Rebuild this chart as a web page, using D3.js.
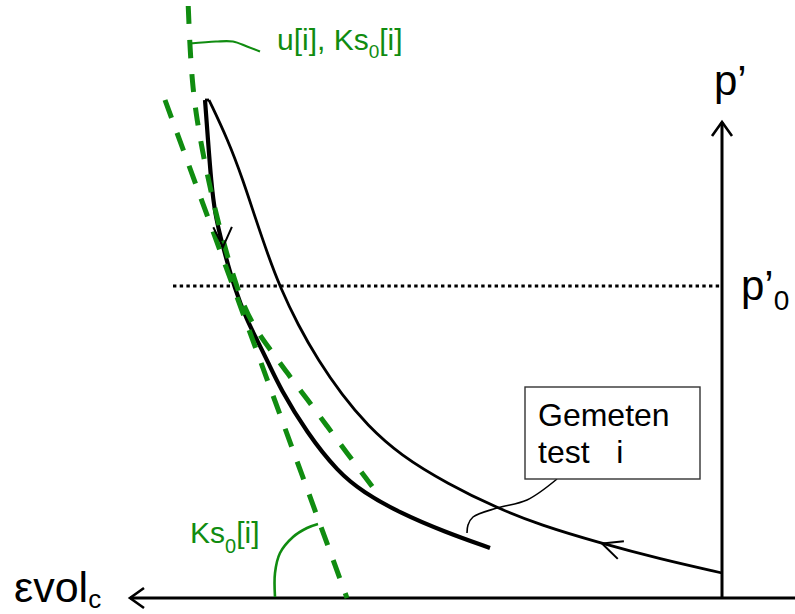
<!DOCTYPE html>
<html>
<head>
<meta charset="utf-8">
<script src="https://cdn.jsdelivr.net/npm/d3@7"></script>
<style>
  body { margin: 0; background: #fff; }
  text { font-family: "Liberation Sans", Arial, sans-serif; }
</style>
</head>
<body>
<div id="vis"></div>
<script>
var width = 795;
var height = 614;
var green = "#108c10";

// schematic units: evol grows to the left, p' grows upward
// loading branch, from the origin side up to the peak
var loading = [[0.00, 5.0], [0.62, 7.8], [1.22, 11.0], [1.82, 14.6], [2.25, 18.0],
  [2.74, 22.8], [3.22, 28.6], [3.55, 34.6], [3.80, 40.6], [4.04, 47.6], [4.24, 54.6],
  [4.42, 62.2], [4.54, 68.6], [4.66, 75.6], [4.79, 83.6], [4.94, 91.6], [5.13, 99.6]];

// unloading branch (thick), from the peak down
var unloading = [[5.17, 99.6], [5.14, 91.6], [5.11, 83.6], [5.07, 76.6], [4.99, 70.2],
  [4.87, 61.6], [4.75, 55.6], [4.65, 51.6], [4.54, 47.2], [4.42, 42.0], [4.15, 33.0],
  [3.84, 25.2], [3.59, 21.2], [3.22, 17.0], [2.77, 13.2], [2.32, 10.0]];

// fitted curve u[i], Ks0[i]
var fit_curve = [[5.34, 119.6], [5.32, 109.6], [5.29, 101.6], [5.25, 95.6], [5.19, 88.8],
  [5.12, 82.2], [5.04, 75.2], [4.93, 67.2], [4.81, 59.6], [4.68, 54.2], [4.53, 50.0],
  [4.34, 44.8], [4.15, 39.8], [3.95, 34.4], [3.75, 29.0], [3.54, 23.4], [3.47, 21.6]];

// tangent Ks0[i] at p'0
var tangent = [[5.57, 99.6], [3.75, 0]];

var p0 = 62.4;
var p0_line = [5.49, 0];
var ev_axis = [-0.75, 5.92];
var p_axis = [0, 95.2];

// direction arrows on the curves: tip and a point the arms lean back to
var curve_arrows = [
  {at: [4.99, 70.2], back: [5.00, 80.0]},
  {at: [1.20, 10.9], back: [0.90, 8.8]}
];

// callout leaders
var fit_leader = [[5.32, 110.9], [5.06, 111.3], [4.89, 111.3], [4.75, 110.3], [4.62, 109.3]];
var tangent_leader = [[4.47, 0.2], [4.47, 5.0], [4.42, 9.0], [4.29, 12.2], [4.15, 14.0], [4.04, 14.8]];
var box_leader = [[1.65, 23.8], [1.95, 19.6], [2.25, 18.0], [2.49, 16.2], [2.54, 14.6], [2.55, 13.0]];
var box_corners = [[1.97, 42.2], [0.22, 23.8]];
var box_lines = ["Gemeten", "test\u00a0\u00a0\u00a0i"];

var x_scale = d3.scaleLinear().domain([0, 6]).range([722, 122]);
var y_scale = d3.scaleLinear().domain([0, 100]).range([598, 98]);

var svg = d3.select("#vis").append("svg")
  .attr("width", width)
  .attr("height", height);

var defs = svg.append("defs");
defs.append("marker")
  .attr("id", "axis-arrow")
  .attr("viewBox", "-18 -13 22 26")
  .attr("refX", 0).attr("refY", 0)
  .attr("markerWidth", 22).attr("markerHeight", 26)
  .attr("markerUnits", "userSpaceOnUse")
  .attr("orient", "auto")
  .append("path")
  .attr("d", "M-14,-10L0,0L-14,10")
  .attr("fill", "none")
  .attr("stroke", "#000")
  .attr("stroke-width", 2.6);

var line = d3.line()
  .x(d => x_scale(d[0]))
  .y(d => y_scale(d[1]));
var smooth = d3.line()
  .x(d => x_scale(d[0]))
  .y(d => y_scale(d[1]))
  .curve(d3.curveBasis);
var leader = d3.line()
  .x(d => x_scale(d[0]))
  .y(d => y_scale(d[1]))
  .curve(d3.curveCatmullRom);

// axes
svg.append("line")
  .attr("x1", x_scale(ev_axis[0])).attr("x2", x_scale(ev_axis[1]))
  .attr("y1", y_scale(0)).attr("y2", y_scale(0))
  .attr("stroke", "#000").attr("stroke-width", 3)
  .attr("marker-end", "url(#axis-arrow)");
svg.append("line")
  .attr("x1", x_scale(0)).attr("x2", x_scale(0))
  .attr("y1", y_scale(p_axis[0])).attr("y2", y_scale(p_axis[1]))
  .attr("stroke", "#000").attr("stroke-width", 3)
  .attr("marker-end", "url(#axis-arrow)");

// p'0 dotted level
svg.append("line")
  .attr("x1", x_scale(p0_line[0])).attr("x2", x_scale(p0_line[1]))
  .attr("y1", y_scale(p0)).attr("y2", y_scale(p0))
  .attr("stroke", "#000").attr("stroke-width", 3)
  .attr("stroke-dasharray", "3.4,3.3");

// measured test curves
svg.append("path")
  .attr("d", smooth(loading))
  .attr("fill", "none").attr("stroke", "#000").attr("stroke-width", 2.8);
svg.append("path")
  .attr("d", smooth(unloading))
  .attr("fill", "none").attr("stroke", "#000").attr("stroke-width", 4.2)
  .attr("stroke-linejoin", "round");
svg.append("path")
  .attr("d", line([loading[loading.length - 1], unloading[0]]))
  .attr("fill", "none").attr("stroke", "#000").attr("stroke-width", 2.8);

// green fit and tangent
svg.append("path")
  .attr("d", smooth(fit_curve))
  .attr("fill", "none").attr("stroke", green).attr("stroke-width", 5)
  .attr("stroke-dasharray", "18,16").attr("stroke-dashoffset", -6);
svg.append("path")
  .attr("d", line(tangent))
  .attr("fill", "none").attr("stroke", green).attr("stroke-width", 5)
  .attr("stroke-dasharray", "19,16");

// direction chevrons
curve_arrows.forEach(function(a) {
  var tx = x_scale(a.at[0]), ty = y_scale(a.at[1]);
  var ang = Math.atan2(y_scale(a.back[1]) - ty, x_scale(a.back[0]) - tx);
  var len = 22, half = 25 * Math.PI / 180;
  var p1 = [tx + len * Math.cos(ang - half), ty + len * Math.sin(ang - half)];
  var p2 = [tx + len * Math.cos(ang + half), ty + len * Math.sin(ang + half)];
  svg.append("path")
    .attr("d", "M" + p1 + "L" + [tx, ty] + "L" + p2)
    .attr("fill", "none").attr("stroke", "#000").attr("stroke-width", 2);
});

// leaders
svg.append("path").attr("d", leader(fit_leader))
  .attr("fill", "none").attr("stroke", green).attr("stroke-width", 2.2);
svg.append("path").attr("d", leader(tangent_leader))
  .attr("fill", "none").attr("stroke", green).attr("stroke-width", 2.6);
svg.append("path").attr("d", leader(box_leader))
  .attr("fill", "none").attr("stroke", "#000").attr("stroke-width", 1.6);

// legend box
var bx = x_scale(box_corners[0][0]), by = y_scale(box_corners[0][1]);
svg.append("rect")
  .attr("x", bx).attr("y", by)
  .attr("width", x_scale(box_corners[1][0]) - bx)
  .attr("height", y_scale(box_corners[1][1]) - by)
  .attr("fill", "#fff").attr("stroke", "#333").attr("stroke-width", 1.4);
svg.selectAll(".box-text")
  .data(box_lines)
  .enter().append("text")
  .attr("class", "box-text")
  .attr("x", bx + 13)
  .attr("y", (d, i) => by + 39 + i * 37)
  .attr("font-size", 32)
  .attr("fill", "#000")
  .text(d => d);

// labels
var fit_label = svg.append("text")
  .attr("x", x_scale(fit_leader[fit_leader.length - 1][0]) + 17)
  .attr("y", y_scale(fit_leader[0][1]) + 6.5)
  .attr("font-size", 30).attr("fill", green);
fit_label.append("tspan").text("u[i], Ks");
fit_label.append("tspan").attr("font-size", 19).attr("dy", 8).text("0");
fit_label.append("tspan").attr("dy", -8).text("[i]");

var tan_label = svg.append("text")
  .attr("x", x_scale(tangent_leader[0][0]) - 85)
  .attr("y", y_scale(0) - 55)
  .attr("font-size", 30).attr("fill", green);
tan_label.append("tspan").text("Ks");
tan_label.append("tspan").attr("font-size", 20).attr("dy", 10).text("0");
tan_label.append("tspan").attr("dy", -10).text("[i]");

svg.append("text")
  .attr("x", x_scale(0) - 8)
  .attr("y", y_scale(p_axis[1]) - 27)
  .attr("font-size", 42).attr("fill", "#000")
  .text("p\u2019");

var p0_label = svg.append("text")
  .attr("x", x_scale(0) + 19)
  .attr("y", y_scale(p0) + 14)
  .attr("font-size", 42).attr("fill", "#000");
p0_label.append("tspan").text("p\u2019");
p0_label.append("tspan").attr("font-size", 28).attr("dy", 10).text("0");

var ev_label = svg.append("text")
  .attr("x", 14)
  .attr("y", y_scale(0) + 4)
  .attr("font-size", 43).attr("fill", "#000");
ev_label.append("tspan").text("\u03b5vol");
ev_label.append("tspan").attr("font-size", 26).attr("dy", 6).text("c");
</script>
</body>
</html>
